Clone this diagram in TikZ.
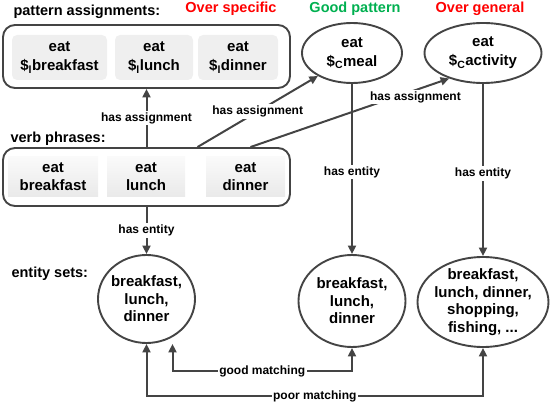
\documentclass[tikz,border=0pt]{standalone}
\usepackage{fontspec}
\setmainfont{Liberation Sans}
\usepackage{tikz}
\usetikzlibrary{shapes.geometric, arrows.meta, positioning}
\definecolor{lineg}{HTML}{444444}
\definecolor{boxg}{HTML}{EFEFEF}
\definecolor{hdred}{HTML}{FF0000}
\definecolor{hdgreen}{HTML}{00B050}

\begin{document}
\begin{tikzpicture}[x=1pt, y=-1pt, >={Triangle[length=8.5pt,width=8pt]},
        head/.style={anchor=base west, font=\fontsize{14.5}{17}\selectfont\bfseries},
        tag/.style={anchor=base, font=\fontsize{14.5}{17}\selectfont\bfseries},
        group/.style={rectangle, draw=lineg, line width=1.9pt, rounded corners=12pt, minimum width=287pt},
        pbox/.style={rectangle, fill=boxg, rounded corners=5pt, minimum height=45pt, inner sep=0pt, align=center, font=\fontsize{15}{19}\selectfont\bfseries},
        vbox/.style={rectangle, top color=gray!4, bottom color=gray!17, minimum height=40pt, inner sep=0pt, align=center, font=\fontsize{15}{18}\selectfont\bfseries},
        pat/.style={ellipse, draw=lineg, line width=1.9pt, minimum height=60pt, inner sep=0pt, align=center, font=\fontsize{15}{19}\selectfont\bfseries},
        ent/.style={ellipse, draw=lineg, line width=1.9pt, inner sep=-2pt, align=center, font=\fontsize{15}{17.5}\selectfont\bfseries},
        arrow/.style={->, draw=lineg, line width=2pt},
        both/.style={<->, draw=lineg, line width=2pt},
        lbl/.style={fill=white, inner sep=1.5pt, font=\fontsize{12}{14}\selectfont\bfseries}]
        \useasboundingbox (0,0) rectangle (552,406);

        \node[head] (hpa) at (10,16) {pattern assignments:};
        \node[head] (hvp) at (7,143) {verb phrases:};
        \node[head] (hes) at (8,278) {entity sets:};
        \node[tag, text=hdred] (tspec) at (231,13) {Over specific};
        \node[tag, text=hdgreen] (tgood) at (355,13) {Good pattern};
        \node[tag, text=hdred] (tgen) at (480,13) {Over general};

        \node[group, minimum height=63pt] (pa) at (146.5,56.5) {};
        \node[pbox, minimum width=95pt] (pa1) at (59.5,57.5) {eat\\\$\textsubscript{l}breakfast};
        \node[pbox, minimum width=78pt] (pa2) at (154,57.5) {eat\\\$\textsubscript{l}lunch};
        \node[pbox, minimum width=80pt] (pa3) at (238,57.5) {eat\\\$\textsubscript{l}dinner};

        \node[pat, minimum width=100pt] (meal) at (352,53) {eat\\\$\textsubscript{C}meal};
        \node[pat, minimum width=117pt] (act) at (483,53) {eat\\\$\textsubscript{C}activity};

        \node[group, minimum height=58pt] (vp) at (146.5,177) {};
        \node[vbox, minimum width=90pt] (vp1) at (53,177) {eat\\breakfast};
        \node[vbox, minimum width=78pt] (vp2) at (146,177) {eat\\lunch};
        \node[vbox, minimum width=79pt] (vp3) at (245.5,177) {eat\\dinner};

        \node[ent, minimum width=97pt, minimum height=88pt] (e1) at (146.5,299) {breakfast,\\lunch,\\dinner};
        \node[ent, minimum width=107pt, minimum height=92pt] (e2) at (352,301) {breakfast,\\lunch,\\dinner};
        \node[ent, minimum width=131pt, minimum height=90pt, inner sep=-3pt] (e3) at (483,302) {breakfast,\\lunch, dinner,\\shopping,\\fishing, ...};

        \draw[arrow] (vp.north) -- node[lbl] {has assignment} (pa.south);
        \draw[arrow] ([xshift=51pt]vp.north) -- node[lbl] {has assignment} (meal.214);
        \draw[arrow] ([xshift=104pt]vp.north) -- node[lbl, pos=0.83, yshift=-7pt] {has assignment} (act.217);

        \draw[arrow] (vp.south) -- node[lbl] {has entity} (e1.north);
        \draw[arrow] (meal.south) -- node[lbl, pos=0.52] {has entity} (e2.north);
        \draw[arrow] (act.south) -- node[lbl, pos=0.52] {has entity} (e3.north);

        \coordinate (g1) at ([xshift=26pt]e1.south);
        \draw[both] (g1) -- ++(0,27) -| node[lbl, pos=0.25] {good matching} (e2.south);
        \draw[both] (e1.south) -- ++(0,52) -| node[lbl, pos=0.25] {poor matching} (e3.south);
    \end{tikzpicture}
\end{document}
